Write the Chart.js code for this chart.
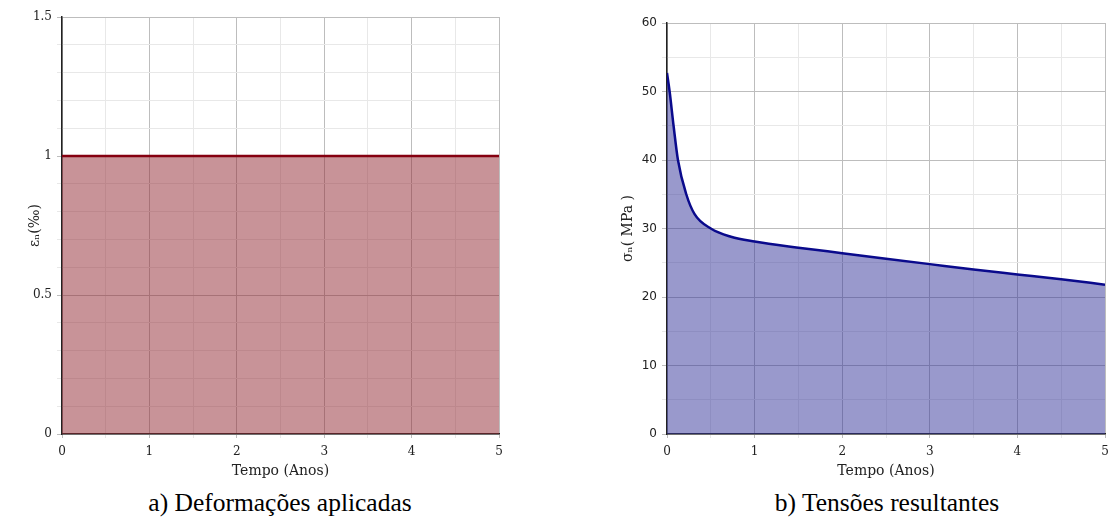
<!DOCTYPE html>
<html lang="pt">
<head>
<meta charset="UTF-8">
<title>Deformações aplicadas / Tensões resultantes</title>
<script src="https://cdn.jsdelivr.net/npm/chart.js"></script>
<style>
    body {
        margin: 0;
        background: #fff;
        width: 1110px;
        height: 526px;
        position: relative;
        overflow: hidden;
    }
    .panel { position: absolute; top: 0; height: 480px; }
    #leftPanel { left: 0; width: 540px; }
    #rightPanel { left: 560px; width: 550px; }
    .caption {
        position: absolute;
        top: 488px;
        font-family: 'Liberation Serif', serif;
        font-size: 25.5px;
        white-space: nowrap;
        transform: translateX(-50%);
    }
</style>
</head>
<body>
<div class="panel" id="leftPanel"><canvas id="strainChart"></canvas></div>
<div class="panel" id="rightPanel"><canvas id="stressChart"></canvas></div>
<div class="caption" style="left:280px">a) Deformações aplicadas</div>
<div class="caption" style="left:887px">b) Tensões resultantes</div>

<script>
    // a) applied strain (per mille) over time (years)
    const strainTimes = [0, 5];
    const strainValues = [1, 1];

    // b) resulting stress (MPa) over time (years)
    const stressTimes = [0, 0.03, 0.075, 0.125, 0.22, 0.315, 0.5, 0.73, 1, 1.5, 2, 2.5, 3, 3.5, 4, 4.5, 5];
    const stressValues = [52.7, 50, 45, 40, 35, 32.1, 30.0, 28.8, 28.1, 27.2, 26.4, 25.6, 24.8, 24.0, 23.3, 22.6, 21.8];

    const xTickLabels = [0, 1, 2, 3, 4, 5];
    const strainTickLabels = [0, 0.5, 1, 1.5];
    const stressTickLabels = [0, 10, 20, 30, 40, 50, 60];

    const serif = 'DejaVu Serif';
    const majorGrid = '#bdbdbd';
    const minorGrid = '#e8e8e8';

    function isIn(list, v) {
        return list.some(t => Math.abs(t - v) < 1e-6);
    }

    function toPoints(xs, ys) {
        return xs.map((x, i) => ({ x: x, y: ys[i] }));
    }

    function xScale() {
        return {
            type: 'linear',
            min: 0,
            max: 5,
            ticks: {
                stepSize: 0.5,
                autoSkip: false,
                maxRotation: 0,
                padding: 7,
                color: '#222',
                font: { family: serif, size: 12 },
                callback: v => isIn(xTickLabels, v) ? String(Math.round(v)) : ''
            },
            grid: {
                tickLength: 4,
                color: ctx => isIn(xTickLabels, ctx.tick.value) ? majorGrid : minorGrid
            },
            border: { color: '#222', width: 1.5 },
            title: {
                display: true,
                text: 'Tempo (Anos)',
                color: '#222',
                font: { family: serif, size: 14 },
                padding: { top: 0, bottom: 0 }
            },
            afterFit: s => {
                s.height = 46;
                s.paddingLeft = 0;
                s.paddingRight = 0;
            }
        };
    }

    Chart.defaults.animation = false;

    new Chart(document.getElementById('strainChart'), {
        type: 'line',
        data: {
            datasets: [{
                data: toPoints(strainTimes, strainValues),
                borderColor: '#850010',
                borderWidth: 2.5,
                backgroundColor: 'rgba(145, 40, 50, 0.5)',
                fill: 'origin',
                pointRadius: 0
            }]
        },
        options: {
            responsive: true,
            maintainAspectRatio: false,
            layout: { padding: { left: 27, right: 41, top: 17, bottom: 0 } },
            plugins: { legend: { display: false }, tooltip: { enabled: false } },
            scales: {
                x: xScale(),
                y: {
                    min: 0,
                    max: 1.5,
                    ticks: {
                        stepSize: 0.1,
                        autoSkip: false,
                        padding: 5,
                        color: '#222',
                        font: { family: serif, size: 12 },
                        callback: v => isIn(strainTickLabels, v) ? String(Math.round(v * 10) / 10) : ''
                    },
                    grid: {
                        tickLength: 5,
                        color: ctx => isIn(strainTickLabels, ctx.tick.value) ? majorGrid : minorGrid
                    },
                    border: { color: '#222', width: 1.5 },
                    title: {
                        display: true,
                        text: 'εₙ(‰)',
                        color: '#222',
                        font: { family: serif, size: 14 },
                        padding: 0
                    },
                    afterFit: s => { s.width = 35; }
                }
            }
        }
    });

    new Chart(document.getElementById('stressChart'), {
        type: 'line',
        data: {
            datasets: [{
                data: toPoints(stressTimes, stressValues),
                borderColor: '#0a0a8c',
                borderWidth: 2.5,
                backgroundColor: 'rgba(51, 51, 153, 0.5)',
                fill: 'origin',
                pointRadius: 0,
                cubicInterpolationMode: 'monotone'
            }]
        },
        options: {
            responsive: true,
            maintainAspectRatio: false,
            layout: { padding: { left: 60, right: 5, top: 23, bottom: 0 } },
            plugins: { legend: { display: false }, tooltip: { enabled: false } },
            scales: {
                x: xScale(),
                y: {
                    min: 0,
                    max: 60,
                    ticks: {
                        stepSize: 5,
                        autoSkip: false,
                        padding: 5,
                        color: '#222',
                        font: { family: 'DejaVu Sans', size: 12 },
                        callback: v => isIn(stressTickLabels, v) ? String(v) : ''
                    },
                    grid: {
                        tickLength: 5,
                        color: ctx => isIn(stressTickLabels, ctx.tick.value) ? majorGrid : minorGrid
                    },
                    border: { color: '#222', width: 1.5 },
                    title: {
                        display: true,
                        text: 'σₙ( MPa )',
                        color: '#222',
                        font: { family: serif, size: 14 },
                        padding: 0
                    },
                    afterFit: s => { s.width = 47; }
                }
            }
        }
    });
</script>
</body>
</html>
